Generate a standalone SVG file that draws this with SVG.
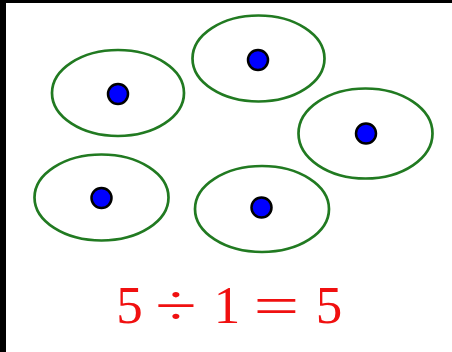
<svg xmlns="http://www.w3.org/2000/svg" width="452" height="352" viewBox="0 0 452 352">
<style>
.grp{fill:none;stroke:#217a21;stroke-width:2.7}
.dot{fill:#0000ff;stroke:#000;stroke-width:2.5}
.t{font-family:"Liberation Serif",serif;fill:#f01010;text-anchor:middle}
</style>
<rect x="0" y="0" width="452" height="352" fill="#fff"/>
<rect x="0" y="0" width="6" height="352" fill="#000"/>
<rect x="0" y="0" width="452" height="3" fill="#000"/>
<g id="node1"><ellipse class="grp" cx="118" cy="93" rx="66" ry="43"/><circle class="dot" cx="118" cy="94" r="10"/></g>
<g id="node2"><ellipse class="grp" cx="258.5" cy="58.5" rx="66" ry="43"/><circle class="dot" cx="258" cy="60" r="10"/></g>
<g id="node3"><ellipse class="grp" cx="365.5" cy="133.5" rx="67" ry="45"/><circle class="dot" cx="366" cy="133.5" r="10"/></g>
<g id="node4"><ellipse class="grp" cx="101.5" cy="197.5" rx="67" ry="43"/><circle class="dot" cx="101.5" cy="198" r="10"/></g>
<g id="node5"><ellipse class="grp" cx="262" cy="209" rx="67" ry="43"/><circle class="dot" cx="261.5" cy="207.5" r="10"/></g>
<g id="label">
<text class="t" x="129.5" y="323" font-size="53">5</text>
<text class="t" x="176" y="325" font-size="58" transform="translate(176 0) scale(1.3 1) translate(-176 0)">÷</text>
<text class="t" x="227" y="323" font-size="53">1</text>
<text class="t" x="276.5" y="325" font-size="56" transform="translate(276.5 0) scale(1.45 1) translate(-276.5 0)">=</text>
<text class="t" x="329" y="323" font-size="53">5</text>
</g>
</svg>
